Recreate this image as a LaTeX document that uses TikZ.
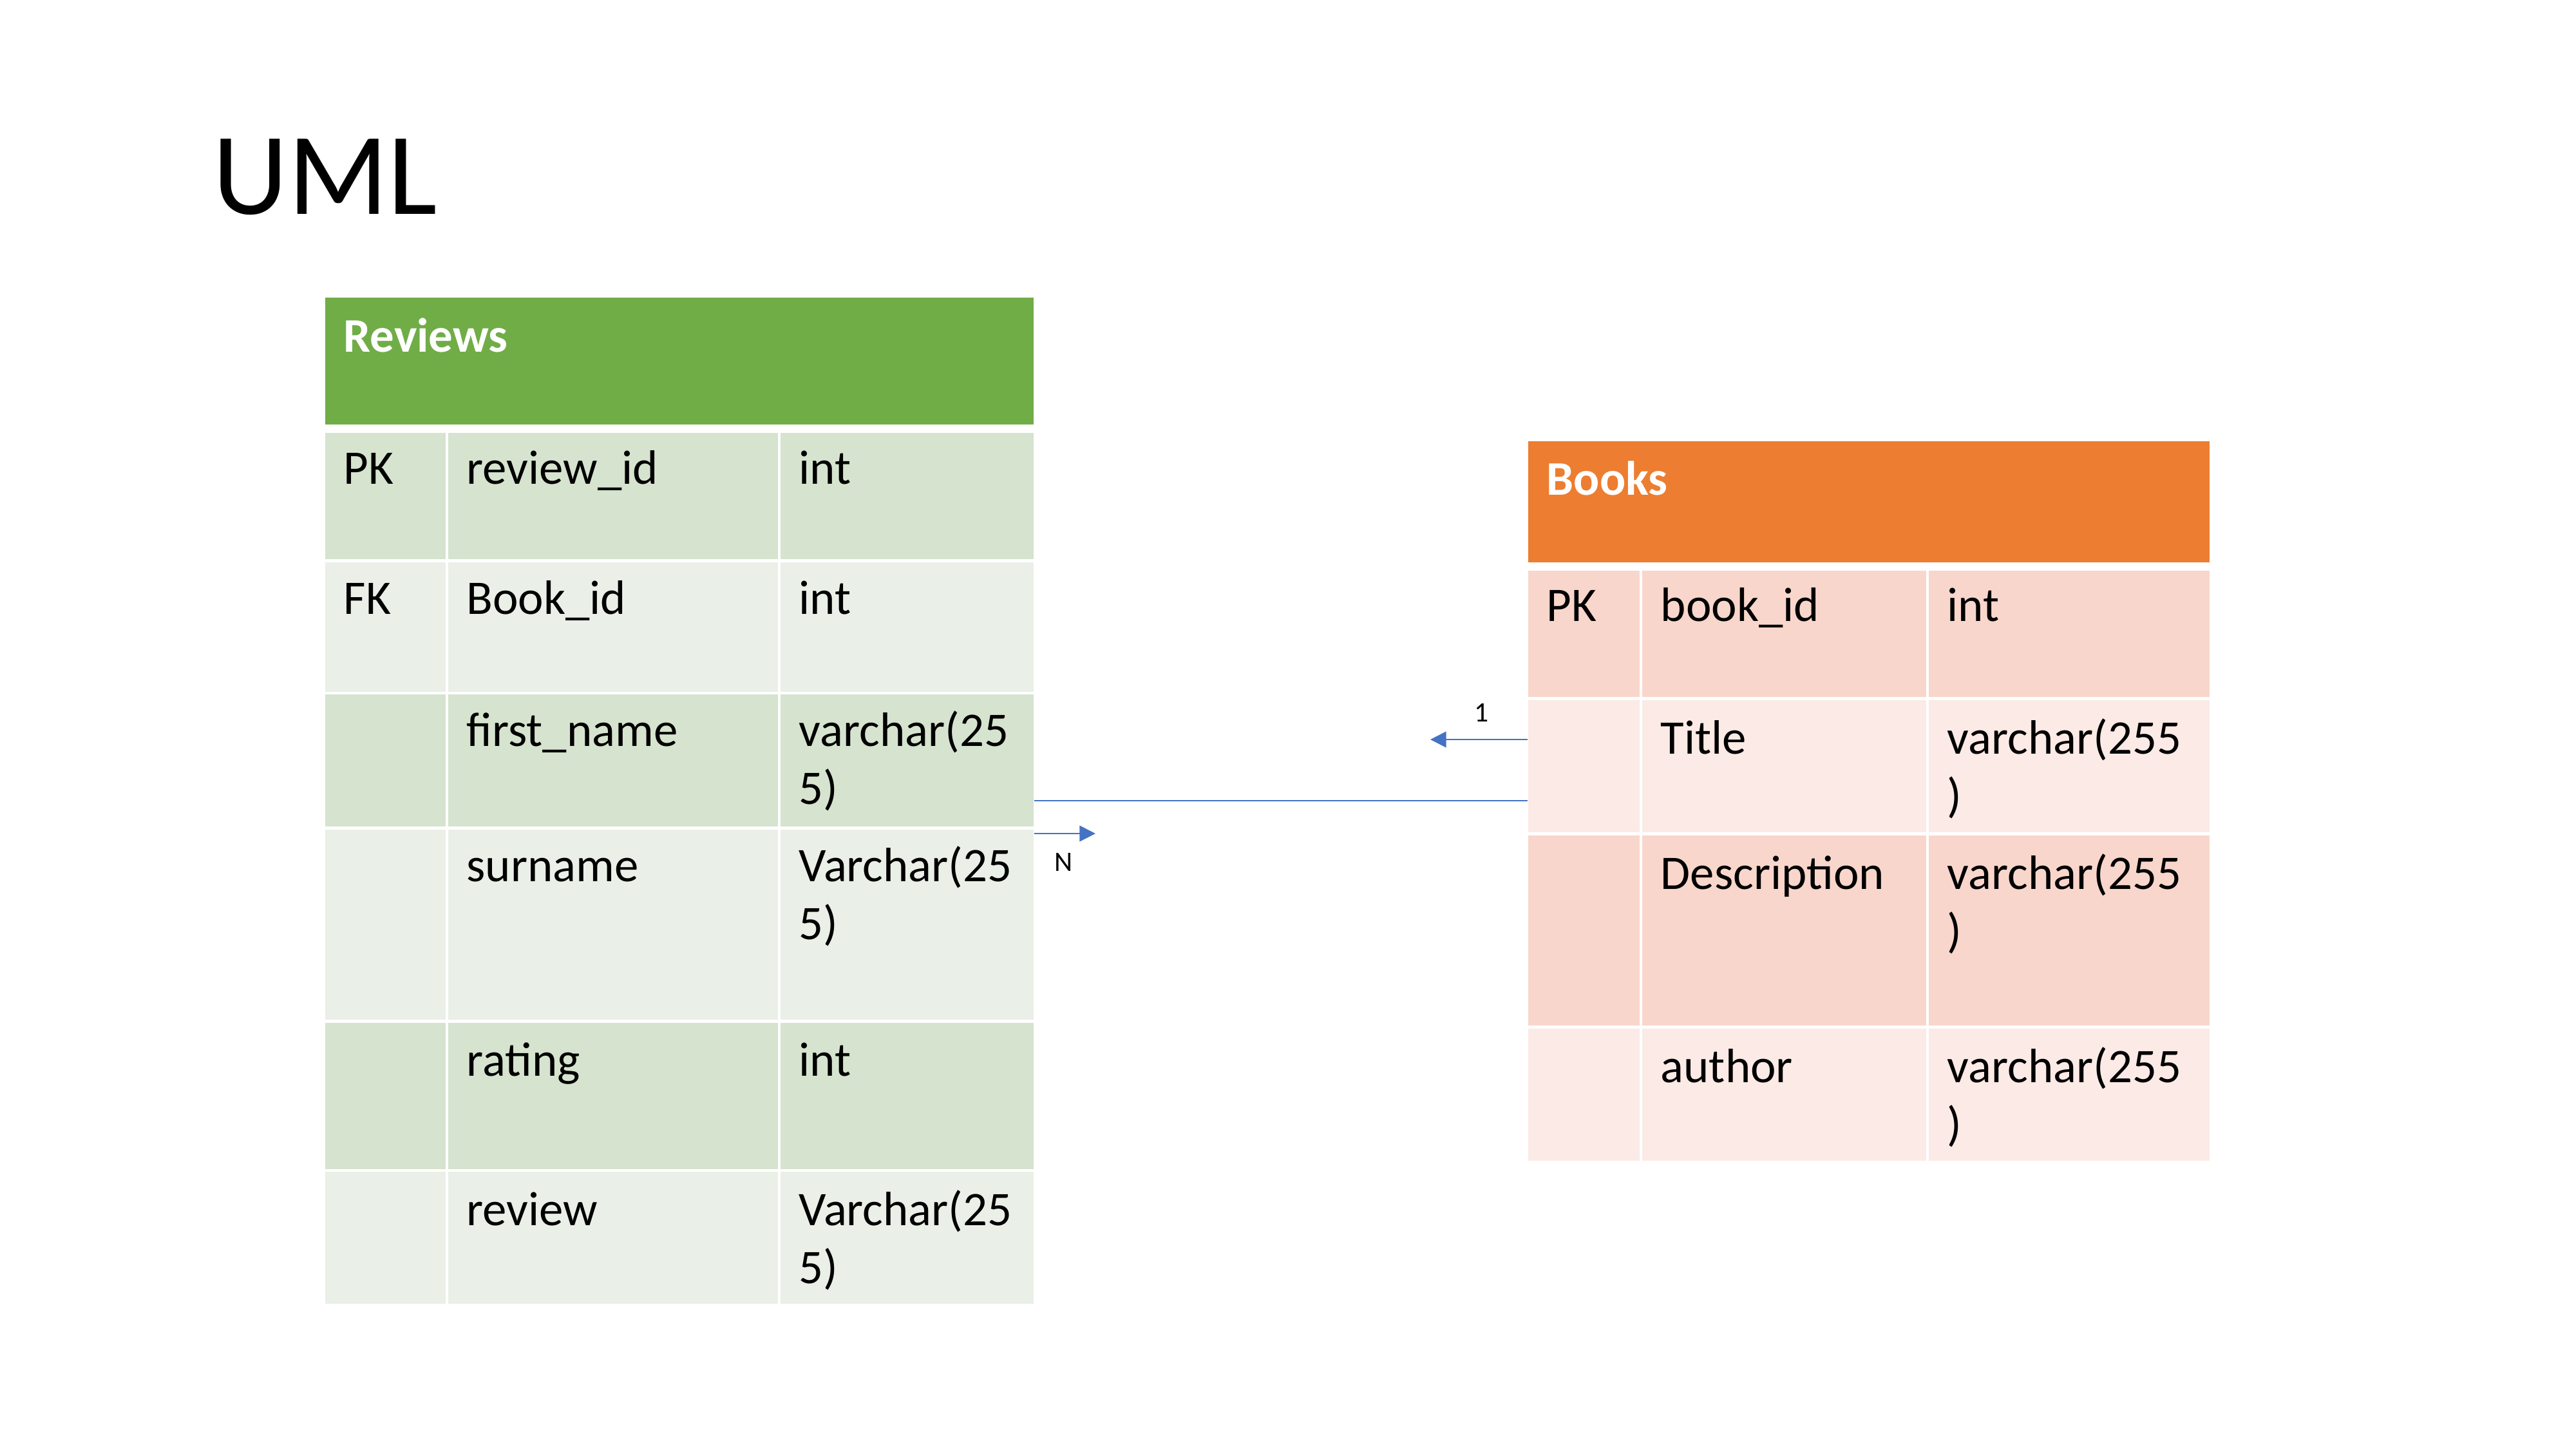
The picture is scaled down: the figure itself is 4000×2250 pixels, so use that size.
\documentclass[tikz,border=0pt]{standalone}
\usepackage{fontspec}
\setmainfont{Carlito}
\usetikzlibrary{arrows.meta,fit}
\definecolor{grnH}{HTML}{70AD47}
\definecolor{grnD}{HTML}{D6E3CF}
\definecolor{grnL}{HTML}{EAEFE8}
\definecolor{orgH}{HTML}{ED7D31}
\definecolor{orgD}{HTML}{F8D6CB}
\definecolor{orgL}{HTML}{FBEAE6}
\definecolor{conBlue}{HTML}{4472C4}
\begin{document}
\begin{tikzpicture}[x=0.01cm,y=-0.01cm,
  txt/.style={anchor=base west,inner sep=0pt,font=\fontsize{21.3}{25.6}\selectfont},
  hdr/.style={txt,text=white,font=\fontsize{21.3}{25.6}\selectfont\bfseries},
  small/.style={inner sep=0pt,font=\fontsize{12.4}{15}\selectfont},
  conn/.style={draw=conBlue,line width=0.6pt},
  arr/.style={conn,-{Triangle[length=7pt,width=7pt]}}]
\useasboundingbox[fill=white] (0,0) rectangle (4000,2250);

% Title
\node[anchor=base west,inner sep=0pt,font=\fontsize{51.7}{60}\selectfont] (title) at (330,332) {UML};

% ---------- Reviews table ----------
\fill[grnH] (505,462) rectangle (1605,659);
% rows: dark/light
\foreach \t/\b/\c in {672/868/grnD,873/1074/grnL,1078/1283/grnD,1288/1583/grnL,1588/1815/grnD,1819/2024/grnL}{
  \fill[\c] (505,\t) rectangle (692,\b);
  \fill[\c] (696,\t) rectangle (1208,\b);
  \fill[\c] (1212,\t) rectangle (1605,\b);
}
\node[fit={(505,462) (1605,2024)},inner sep=0pt] (reviews) {};

\node[hdr] (revh) at (533,546) {Reviews};
\node[txt] (r1a) at (533,751) {PK};
\node[txt] (r1b) at (724,751) {review\_id};
\node[txt] (r1c) at (1240,751) {int};
\node[txt] (r2a) at (533,953) {FK};
\node[txt] (r2b) at (724,953) {Book\_id};
\node[txt] (r2c) at (1240,953) {int};
\node[txt] (r3b) at (724,1158) {first\_name};
\node[txt] (r3c) at (1240,1158) {varchar(25};
\node[txt] (r3d) at (1240,1248) {5)};
\node[txt] (r4b) at (724,1368) {surname};
\node[txt] (r4c) at (1240,1368) {Varchar(25};
\node[txt] (r4d) at (1240,1458) {5)};
\node[txt] (r5b) at (724,1670) {rating};
\node[txt] (r5c) at (1240,1670) {int};
\node[txt] (r6b) at (724,1902) {review};
\node[txt] (r6c) at (1240,1902) {Varchar(25};
\node[txt] (r6d) at (1240,1992) {5)};

% ---------- Books table ----------
\fill[orgH] (2373,685) rectangle (3431,873);
\foreach \t/\b/\c in {886/1082/orgD,1087/1292/orgL,1297/1592/orgD,1597/1802/orgL}{
  \fill[\c] (2373,\t) rectangle (2546,\b);
  \fill[\c] (2550,\t) rectangle (2991,\b);
  \fill[\c] (2995,\t) rectangle (3431,\b);
}
\node[fit={(2373,685) (3431,1802)},inner sep=0pt] (books) {};

\node[hdr] (bookh) at (2401,768) {Books};
\node[txt] (b1a) at (2401,964) {PK};
\node[txt] (b1b) at (2578,964) {book\_id};
\node[txt] (b1c) at (3023,964) {int};
\node[txt] (b2b) at (2578,1170) {Title};
\node[txt] (b2c) at (3023,1170) {varchar(255};
\node[txt] (b2d) at (3023,1260) {)};
\node[txt] (b3b) at (2578,1380) {Description};
\node[txt] (b3c) at (3023,1380) {varchar(255};
\node[txt] (b3d) at (3023,1470) {)};
\node[txt] (b4b) at (2578,1680) {author};
\node[txt] (b4c) at (3023,1680) {varchar(255};
\node[txt] (b4d) at (3023,1770) {)};

% ---------- Connector ----------
\coordinate (oneTip) at (2221,1148);
\coordinate (nTip) at (1701,1294);
\draw[conn] (reviews.east |- 0,1243) -- (books.west |- 0,1243);
\draw[arr] (books.west |- oneTip) -- (oneTip);
\draw[arr] (reviews.east |- nTip) -- (nTip);
\node[small,anchor=base] (lblone) at (2301,1120) {1};
\node[small,anchor=base west] (lbln) at (1637,1352) {N};
\end{tikzpicture}
\end{document}
